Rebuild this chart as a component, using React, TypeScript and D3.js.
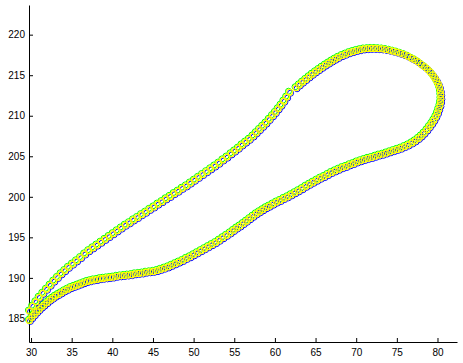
import * as d3 from 'd3';
import React, { useRef, useEffect } from 'react';

// lower branch, bottom-left to the right end
const lowerBranch: [number, number][] = [
  [29.8, 184.75], [30.1, 185.1], [30.4, 185.45], [30.7, 185.8], [31.0, 186.1],
  [31.3, 186.4], [31.6, 186.65], [31.95, 186.95], [32.3, 187.25], [32.65, 187.5],
  [33.0, 187.75], [33.35, 187.95], [33.7, 188.15], [34.1, 188.4], [34.5, 188.6],
  [34.9, 188.8], [35.3, 188.95], [35.7, 189.1], [36.1, 189.25], [36.5, 189.4],
  [36.9, 189.55], [37.3, 189.65], [37.7, 189.75], [38.1, 189.8], [38.5, 189.9],
  [38.9, 189.95], [39.3, 190.0], [39.7, 190.05], [40.1, 190.1], [40.55, 190.2],
  [41.0, 190.25], [41.45, 190.3], [41.9, 190.35], [42.35, 190.4], [42.8, 190.5],
  [43.25, 190.55], [43.7, 190.6], [44.15, 190.7], [44.6, 190.75], [45.05, 190.8],
  [45.5, 190.9], [45.95, 191.05], [46.4, 191.2], [46.85, 191.35], [47.3, 191.55],
  [47.75, 191.75], [48.2, 191.95], [48.65, 192.15], [49.1, 192.4], [49.55, 192.6],
  [50.0, 192.85], [50.45, 193.1], [50.9, 193.35], [51.35, 193.6], [51.8, 193.85],
  [52.25, 194.1], [52.7, 194.35], [53.15, 194.65], [53.6, 194.95], [54.05, 195.25],
  [54.5, 195.55], [54.9, 195.85], [55.3, 196.15], [55.7, 196.4], [56.1, 196.7],
  [56.5, 197.0], [56.9, 197.3], [57.3, 197.6], [57.7, 197.9], [58.1, 198.15],
  [58.5, 198.4], [58.9, 198.65], [59.3, 198.85], [59.75, 199.1], [60.2, 199.35],
  [60.65, 199.55], [61.1, 199.8], [61.55, 200.0], [62.0, 200.25], [62.45, 200.5],
  [62.9, 200.75], [63.35, 201.0], [63.8, 201.3], [64.25, 201.55], [64.7, 201.8],
  [65.15, 202.05], [65.6, 202.3], [66.05, 202.5], [66.5, 202.75], [66.95, 203.0],
  [67.4, 203.2], [67.85, 203.4], [68.3, 203.6], [68.75, 203.75], [69.2, 203.95],
  [69.65, 204.1], [70.1, 204.3], [70.55, 204.45], [71.0, 204.6], [71.45, 204.75],
  [71.9, 204.85], [72.35, 205.0], [72.8, 205.15], [73.25, 205.25], [73.7, 205.4],
  [74.15, 205.55], [74.6, 205.7], [75.05, 205.85], [75.5, 206.0], [75.95, 206.2],
  [76.4, 206.4], [76.85, 206.65], [77.25, 206.9], [77.65, 207.2],
];

// the loop at the right, going up and back to the left
const loopBranch: [number, number][] = [
  [78.0, 207.5], [78.35, 207.85], [78.7, 208.25], [79.0, 208.65], [79.3, 209.05],
  [79.55, 209.45], [79.8, 209.9], [80.0, 210.35], [80.15, 210.8], [80.3, 211.25],
  [80.38, 211.7], [80.42, 212.15], [80.4, 212.6], [80.35, 213.05], [80.25, 213.5],
  [80.1, 213.9], [79.9, 214.3], [79.65, 214.7], [79.4, 215.05], [79.1, 215.4],
  [78.75, 215.75], [78.4, 216.05], [78.0, 216.35], [77.6, 216.65], [77.2, 216.9],
  [76.8, 217.1], [76.35, 217.35], [75.9, 217.55], [75.45, 217.7], [75.0, 217.85],
  [74.55, 217.97], [74.1, 218.08], [73.65, 218.17], [73.2, 218.24], [72.75, 218.28],
  [72.3, 218.3], [71.85, 218.3], [71.4, 218.28], [70.95, 218.24], [70.5, 218.15],
  [70.05, 218.05], [69.6, 217.92], [69.15, 217.78], [68.7, 217.6], [68.25, 217.42],
  [67.8, 217.2], [67.4, 216.98], [67.0, 216.75], [66.6, 216.5], [66.2, 216.25],
  [65.8, 215.98], [65.4, 215.7], [65.0, 215.42], [64.6, 215.12], [64.2, 214.8],
  [63.8, 214.48], [63.4, 214.15], [63.0, 213.8], [62.6, 213.45],
];

// upper branch, from bottom-left up to the gap
const upperBranch: [number, number][] = [
  [29.8, 185.9], [30.2, 186.5], [30.6, 187.05], [31.0, 187.6], [31.45, 188.1],
  [31.9, 188.6], [32.35, 189.1], [32.8, 189.6], [33.25, 190.05], [33.7, 190.5],
  [34.15, 190.9], [34.6, 191.3], [35.1, 191.7], [35.6, 192.1], [36.1, 192.5],
  [36.6, 192.95], [37.1, 193.35], [37.6, 193.7], [38.1, 194.05], [38.6, 194.4],
  [39.1, 194.75], [39.6, 195.1], [40.1, 195.45], [40.6, 195.8], [41.1, 196.15],
  [41.6, 196.5], [42.1, 196.8], [42.6, 197.15], [43.1, 197.45], [43.6, 197.8],
  [44.1, 198.1], [44.6, 198.45], [45.1, 198.75], [45.6, 199.1], [46.1, 199.4],
  [46.6, 199.75], [47.1, 200.05], [47.6, 200.4], [48.1, 200.7], [48.6, 201.05],
  [49.1, 201.35], [49.6, 201.7], [50.1, 202.05], [50.6, 202.4], [51.1, 202.75],
  [51.6, 203.1], [52.1, 203.45], [52.6, 203.8], [53.1, 204.15], [53.6, 204.55],
  [54.1, 204.9], [54.6, 205.3], [55.05, 205.65], [55.5, 206.0], [55.95, 206.4],
  [56.4, 206.75], [56.85, 207.1], [57.3, 207.5], [57.7, 207.9], [58.1, 208.3],
  [58.5, 208.7], [58.9, 209.1], [59.3, 209.55], [59.7, 210.0], [60.05, 210.4],
  [60.4, 210.85], [60.75, 211.3], [61.1, 211.8], [61.45, 212.3], [61.8, 212.9],
];

const xTicks = [30, 35, 40, 45, 50, 55, 60, 65, 70, 75, 80];
const yTicks = [185, 190, 195, 200, 205, 210, 215, 220];

// three marker series drawn over each other, slightly shifted
const markerSeries = [
  { color: '#00ff00', dx: -1, dy: -1, w: 1 },
  { color: '#0000ff', dx: 1, dy: 1, w: 1 },
  { color: '#ffff00', dx: 0, dy: 0, w: 1.2 },
];

function App() {
  const ref = useRef<SVGSVGElement>(null);

  useEffect(() => {
    const svg = d3.select(ref.current);
    svg.selectAll('*').remove();

    const x = d3.scaleLinear().domain([29.75, 82.4]).range([29, 457]);
    const y = d3.scaleLinear().domain([182.09, 223.66]).range([342, 5]);

    const yAxis = svg.append('g')
      .attr('transform', 'translate(29,0)')
      .call(d3.axisLeft(y).tickValues(yTicks).tickSizeInner(-4).tickSizeOuter(0).tickPadding(4));
    const xAxis = svg.append('g')
      .attr('transform', 'translate(0,342)')
      .call(d3.axisBottom(x).tickValues(xTicks).tickSizeInner(-4).tickSizeOuter(0).tickPadding(7));

    [xAxis, yAxis].forEach(a => {
      a.selectAll('text')
        .style('font-family', '"Liberation Sans", Arial, Helvetica, sans-serif')
        .style('font-size', '10px')
        .attr('fill', '#000');
      a.selectAll('line, path').attr('stroke', '#000');
    });

    const points = [...lowerBranch, ...loopBranch, ...upperBranch];

    markerSeries.forEach(s => {
      svg.append('g')
        .selectAll('circle')
        .data(points)
        .join('circle')
        .attr('cx', d => x(d[0]) + s.dx)
        .attr('cy', d => y(d[1]) + s.dy)
        .attr('r', 3)
        .attr('fill', 'none')
        .attr('stroke', s.color)
        .attr('stroke-width', s.w);
    });
  }, []);

  return (
    <div style={{ position: 'absolute', left: 0, top: 0 }}>
      <svg ref={ref} width={463} height={363} style={{ display: 'block', background: '#fff' }} />
    </div>
  );
}

export default App;
